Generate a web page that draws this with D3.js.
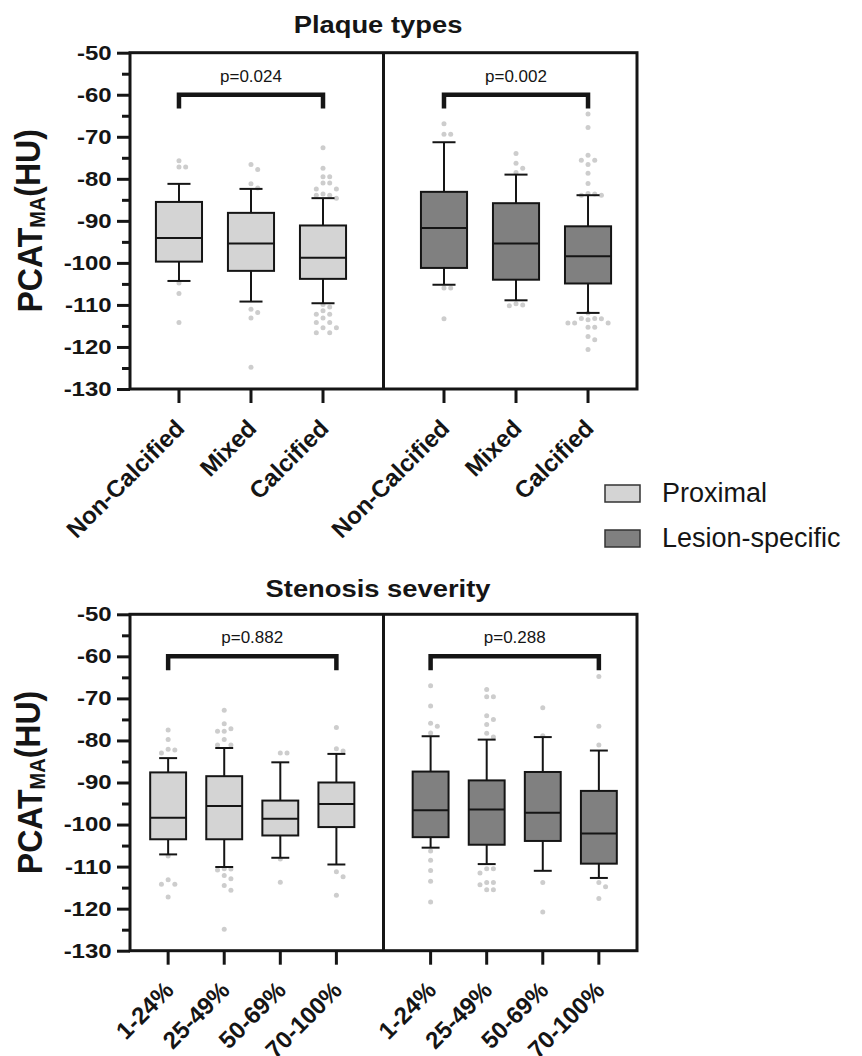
<!DOCTYPE html>
<html>
<head>
<meta charset="utf-8">
<script src="https://cdn.jsdelivr.net/npm/d3@7"></script>
<style>
  body { margin: 0; background: #fff; }
  svg { font-family: "Liberation Sans", Arial, sans-serif; }
</style>
</head>
<body>
<svg id="chart" width="862" height="1056"></svg>
<script>
// ---- data ----
const groups = ["Proximal", "Lesion-specific"];
const groupFills = ["#d4d4d4", "#808080"];

const plaqueCats = ["Non-Calcified", "Mixed", "Calcified"];
const stenosisCats = ["1-24%", "25-49%", "50-69%", "70-100%"];

const yTicks = [-130, -120, -110, -100, -90, -80, -70, -60, -50];

// box stats: [whisker low, Q1, median, Q3, whisker high]
const plaqueProxStats = [
  [-104.3, -99.7, -94.1, -85.5, -81.2],
  [-109.2, -101.9, -95.4, -88.1, -82.4],
  [-109.6, -103.8, -98.8, -91.1, -84.6]
];
const plaqueLesionStats = [
  [-105.2, -101.2, -91.7, -83.1, -71.3],
  [-108.9, -104.0, -95.4, -85.8, -79.0],
  [-111.9, -104.9, -98.4, -91.3, -83.9]
];
const plaqueProxOut = [
  [-75.7, -77.2, -77.2, -104.8, -107.3, -114.2],
  [-76.6, -77.8, -81.2, -82.2, -111.0, -111.8, -113.1, -124.8],
  [-72.6, -77.5, -79.5, -79.5, -81.0, -81.0, -82.4, -82.4, -83.6, -83.9, -83.9, -84.6,
   -109.9, -110.5, -111.4, -112.2, -112.2, -113.1, -114.2, -114.2, -115.4, -115.4, -116.6, -116.6]
];
const plaqueLesionOut = [
  [-66.9, -69.4, -69.4, -106.0, -106.0, -113.3],
  [-74.0, -76.3, -77.5, -78.5, -109.7, -110.0, -110.2],
  [-64.6, -67.8, -74.4, -75.6, -75.6, -76.6, -78.7, -81.1, -83.5, -83.6, -83.9, -83.9,
   -111.9, -113.2, -113.2, -113.3, -113.5, -114.3, -114.3, -114.3, -115.3, -115.3, -117.5, -118.3, -120.6]
];

const stenosisProxStats = [
  [-107.1, -103.5, -98.4, -87.6, -84.2],
  [-110.1, -103.5, -95.6, -88.5, -81.8],
  [-107.9, -102.6, -98.6, -94.3, -85.2],
  [-109.5, -100.6, -95.1, -90.0, -83.2]
];
const stenosisLesionStats = [
  [-105.5, -103.0, -96.6, -87.4, -79.0],
  [-109.4, -104.8, -96.4, -89.5, -79.8],
  [-111.0, -103.9, -97.2, -87.5, -79.2],
  [-112.7, -109.3, -102.1, -92.0, -82.4]
];
const stenosisProxOut = [
  [-77.5, -79.8, -82.1, -82.3, -83.0, -107.5, -113.1, -114.2, -114.2, -117.2],
  [-72.8, -76.0, -77.2, -77.8, -77.8, -79.8, -81.1, -81.1, -110.5, -110.6, -110.8, -112.1, -112.9, -114.5, -115.6, -124.9],
  [-83.0, -83.0, -108.2, -113.7],
  [-76.9, -82.0, -82.5, -111.2, -112.4, -116.8]
];
const stenosisLesionOut = [
  [-67.0, -71.8, -75.9, -76.6, -78.2, -106.3, -108.5, -110.9, -113.5, -118.4],
  [-67.9, -69.6, -69.6, -74.1, -75.0, -76.2, -78.3, -79.2, -110.5, -110.5, -111.5, -113.8, -113.8, -114.3, -115.5, -115.5],
  [-72.2, -78.9, -113.8, -120.8],
  [-64.8, -76.6, -81.1, -113.8, -114.8, -117.6]
];

const plaquePValues = ["p=0.024", "p=0.002"];
const stenosisPValues = ["p=0.882", "p=0.288"];

// ---- layout ----
const svg = d3.select("#chart");
const left = 130, right = 637;
const gapSlots = 1.68, padSlots = 0.68;
const ink = "#151515";

function drawPanel(opt) {
  let n = opt.cats.length;
  let slotOf = (g, i) => g * (n - 1 + gapSlots) + i;
  let x = d3.scaleLinear()
    .domain([-padSlots, slotOf(1, n - 1) + padSlots])
    .range([left, right]);
  let y = d3.scaleLinear().domain([-130, -50]).range(opt.yRange);
  let slotW = x(1) - x(0);
  let boxW = slotW * 0.64;
  let capW = boxW * 0.5;

  let g = svg.append("g");

  // title
  g.append("text")
    .attr("transform", `translate(378,${opt.titleY}) scale(1.14,1)`)
    .attr("text-anchor", "middle")
    .style("font-weight", "bold")
    .style("font-size", "24px")
    .attr("fill", ink)
    .text(opt.title);

  // outlier dots (simple beeswarm so the dots do not overlap)
  opt.stats.forEach((grp, gi) => {
    opt.outliers[gi].forEach((vals, ci) => {
      let cx = x(slotOf(gi, ci));
      let placed = [];
      let step = 6.7;
      vals.slice().sort((a, b) => b - a).forEach(v => {
        let cy = y(v);
        let cands = [0, 1, -1, 2, -2, 3, -3];
        for (let k of cands) {
          let px = cx + k * step;
          let hit = placed.some(p => Math.hypot(p[0] - px, p[1] - cy) < 6);
          if (!hit) { placed.push([px, cy]); break; }
        }
      });
      g.selectAll(null)
        .data(placed)
        .join("circle")
        .attr("cx", d => d[0])
        .attr("cy", d => d[1])
        .attr("r", 2.5)
        .attr("fill", "#cdcdcd");
    });
  });

  // boxes and whiskers
  opt.stats.forEach((grp, gi) => {
    grp.forEach((s, ci) => {
      let cx = x(slotOf(gi, ci));
      let bg = g.append("g")
        .attr("stroke", ink)
        .attr("stroke-width", 2);
      bg.append("line").attr("x1", cx).attr("x2", cx).attr("y1", y(s[4])).attr("y2", y(s[3]));
      bg.append("line").attr("x1", cx).attr("x2", cx).attr("y1", y(s[1])).attr("y2", y(s[0]));
      bg.append("line").attr("x1", cx - capW / 2).attr("x2", cx + capW / 2).attr("y1", y(s[4])).attr("y2", y(s[4]));
      bg.append("line").attr("x1", cx - capW / 2).attr("x2", cx + capW / 2).attr("y1", y(s[0])).attr("y2", y(s[0]));
      bg.append("rect")
        .attr("x", cx - boxW / 2)
        .attr("y", y(s[3]))
        .attr("width", boxW)
        .attr("height", y(s[1]) - y(s[3]))
        .attr("fill", groupFills[gi]);
      bg.append("line").attr("x1", cx - boxW / 2).attr("x2", cx + boxW / 2).attr("y1", y(s[2])).attr("y2", y(s[2]));
    });

    // significance bracket over first and last category
    let x1 = x(slotOf(gi, 0)), x2 = x(slotOf(gi, n - 1));
    g.append("path")
      .attr("d", `M${x1},${y(-63.3)}V${y(-60)}H${x2}V${y(-63.3)}`)
      .attr("fill", "none")
      .attr("stroke", ink)
      .attr("stroke-width", 4.5);
    g.append("text")
      .attr("x", (x1 + x2) / 2)
      .attr("y", y(-56.9))
      .attr("text-anchor", "middle")
      .style("font-size", "17px")
      .attr("fill", ink)
      .text(opt.pvals[gi]);
  });

  // frame: two panels
  let divX = x(n - 1 + gapSlots / 2);
  g.append("rect")
    .attr("x", left).attr("y", y(-50))
    .attr("width", right - left).attr("height", y(-130) - y(-50))
    .attr("fill", "none").attr("stroke", ink).attr("stroke-width", 3);
  g.append("line")
    .attr("x1", divX).attr("x2", divX)
    .attr("y1", y(-50)).attr("y2", y(-130))
    .attr("stroke", ink).attr("stroke-width", 3);

  // y axis (major with labels, minor unlabeled)
  let yAxis = g.append("g")
    .attr("transform", `translate(${left},0)`)
    .call(d3.axisLeft(y).tickValues(yTicks).tickSize(13).tickPadding(2.3).tickFormat(d => String(d)));
  yAxis.select(".domain").remove();
  yAxis.selectAll("line").attr("stroke", ink).attr("stroke-width", 3);
  yAxis.selectAll("text")
    .attr("transform", "scale(1.2,1)")
    .attr("fill", ink)
    .style("font-size", "20px")
    .style("font-weight", "bold")
    .style("font-family", "'Liberation Sans', Arial, sans-serif");

  let yMinor = g.append("g")
    .attr("transform", `translate(${left},0)`)
    .call(d3.axisLeft(y).tickValues(yTicks.slice(1).map(v => v - 5)).tickSize(8).tickFormat(""));
  yMinor.select(".domain").remove();
  yMinor.selectAll("line").attr("stroke", ink).attr("stroke-width", 3);

  // y title
  let yt = g.append("text")
    .attr("transform", `translate(42,${(opt.yRange[0] + opt.yRange[1]) / 2}) scale(1.1,1) rotate(-90)`)
    .attr("text-anchor", "middle")
    .style("font-weight", "bold")
    .style("font-size", "32px")
    .attr("fill", ink);
  yt.append("tspan").text("PCAT");
  yt.append("tspan").attr("dy", "0.12em").style("font-size", "20px").text("MA");
  yt.append("tspan").attr("dy", "-0.12em").text("(HU)");

  // x ticks and rotated labels
  let axisY = y(-130);
  groups.forEach((grp, gi) => {
    opt.cats.forEach((c, ci) => {
      let cx = x(slotOf(gi, ci));
      g.append("line")
        .attr("x1", cx).attr("x2", cx)
        .attr("y1", axisY).attr("y2", axisY + 14)
        .attr("stroke", ink).attr("stroke-width", 3);
      g.append("text")
        .attr("transform", `translate(${cx + 7},${axisY + 41}) rotate(-45)`)
        .attr("text-anchor", "end")
        .style("font-weight", "bold")
        .style("font-size", "24px")
        .attr("fill", ink)
        .text(c);
    });
  });
}

drawPanel({
  title: "Plaque types", titleY: 33, yRange: [389, 52.7],
  cats: plaqueCats,
  stats: [plaqueProxStats, plaqueLesionStats],
  outliers: [plaqueProxOut, plaqueLesionOut],
  pvals: plaquePValues
});

drawPanel({
  title: "Stenosis severity", titleY: 597, yRange: [950.7, 614.3],
  cats: stenosisCats,
  stats: [stenosisProxStats, stenosisLesionStats],
  outliers: [stenosisProxOut, stenosisLesionOut],
  pvals: stenosisPValues
});

// legend
let legend = svg.append("g").attr("transform", "translate(605,485)");
groups.forEach((name, i) => {
  legend.append("rect")
    .attr("x", 0).attr("y", i * 45)
    .attr("width", 35).attr("height", 17)
    .attr("fill", groupFills[i])
    .attr("stroke", "#333").attr("stroke-width", 1.5);
  legend.append("text")
    .attr("x", 57).attr("y", i * 45 + 17)
    .style("font-size", "27px")
    .attr("fill", ink)
    .text(name);
});
</script>
</body>
</html>
